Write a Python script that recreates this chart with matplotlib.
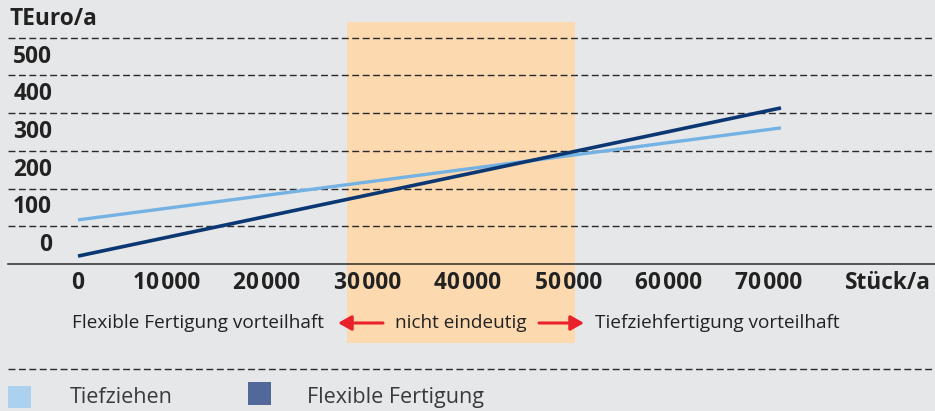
import matplotlib
matplotlib.use("Agg")
import matplotlib.pyplot as plt
from matplotlib.patches import Rectangle
from matplotlib.transforms import offset_copy

plt.rcParams['font.family'] = ['Open Sans', 'DejaVu Sans']

# Stückzahl pro Jahr
stueck = [0, 70000]
# Kosten in TEuro/a
tiefziehen = [117, 361]
flexibel = [21, 414]

x_ticks = [0, 10000, 20000, 30000, 40000, 50000, 60000, 70000]
y_ticks = [0, 100, 200, 300, 400, 500]
grid_levels = [100, 200, 300, 400, 500, 600]

# Bereich "nicht eindeutig"
band_start, band_end = 26800, 49500

bg = "#e6e7e9"
c_dark = "#0b3772"
c_light = "#74b2e4"
c_band = "#fdd9b0"
c_red = "#e8212b"
c_text = "#222222"

W, H = 935, 411
fig = plt.figure(figsize=(W / 100, H / 100), dpi=100, facecolor=bg)
ax = fig.add_axes([0, 0, 1, 1])
ax.set_facecolor(bg)
ax.axis("off")

# pixel -> data: x=0 at px 78, 70000 at px 781; y=0 at px 264, 100 per 37.7 px
px_per_x = 703 / 70000
px_per_y = 0.377
ax.set_xlim(-78 / px_per_x, (W - 78) / px_per_x)
ax.set_ylim(-(H - 264) / px_per_y, 264 / px_per_y)

x_left = (8 - 78) / px_per_x
x_right = (W - 78) / px_per_x

ax.fill_between([band_start, band_end], -(343 - 264) / px_per_y, (264 - 22) / px_per_y,
                color=c_band, lw=0, zorder=1)

for g in grid_levels:
    ax.plot([x_left, x_right], [g, g], color="#2a2a2a", lw=1.0,
            ls=(0, (5, 2.5)), zorder=2)
ax.plot([x_left, x_right], [0, 0], color="#2a2a2a", lw=1.1, zorder=2)
y_sep = -(369 - 264) / px_per_y
ax.plot([x_left, x_right], [y_sep, y_sep], color="#2a2a2a", lw=1.0,
        ls=(0, (5, 2.5)), zorder=2)

ax.plot(stueck, tiefziehen, color=c_light, lw=2.4, solid_capstyle="butt", zorder=3)
ax.plot(stueck, flexibel, color=c_dark, lw=2.6, solid_capstyle="butt", zorder=4)

# Achsenbeschriftung
fs_axis = 16.3
for v in y_ticks:
    ax.text((52 - 78) / px_per_x, v + 50, str(v), ha="right", va="center",
            fontsize=fs_axis, fontweight="bold", color=c_text, zorder=5)
ax.text(x_left + 2 / px_per_x, (264 - 19) / px_per_y, "TEuro/a", ha="left", va="center",
        fontsize=fs_axis, fontweight="bold", color=c_text)

y_xlab = -(283 - 264) / px_per_y
shifted = offset_copy(ax.transData, fig=fig, x=-12, y=0, units="dots")
for v in x_ticks:
    lab = f"{v:,}".replace(",", "\u200a")
    ax.text(v, y_xlab, lab, ha="center", va="center", fontsize=fs_axis,
            fontweight="bold", color=c_text, zorder=5,
            transform=ax.transData if v == 0 else shifted)
ax.text((845 - 78) / px_per_x, y_xlab, "Stück/a", ha="left", va="center",
        fontsize=fs_axis, fontweight="bold", color=c_text)

# Bereichsbeschriftung mit Pfeilen
fs_row = 13.7
y_row = -(323 - 264) / px_per_y
ax.text((324 - 78) / px_per_x, y_row, "Flexible Fertigung vorteilhaft", ha="right",
        va="center", fontsize=fs_row, color=c_text)
ax.text((band_start + band_end) / 2, y_row, "nicht eindeutig", ha="center",
        va="center", fontsize=fs_row, color=c_text)
ax.text((595 - 78) / px_per_x, y_row, "Tiefziehfertigung vorteilhaft", ha="left",
        va="center", fontsize=fs_row, color=c_text)
arrow = dict(arrowstyle="-|>,head_length=0.8,head_width=0.45", color=c_red, lw=2.2,
             shrinkA=0, shrinkB=0)
ax.annotate("", xy=((338 - 78) / px_per_x, y_row), xytext=((383 - 78) / px_per_x, y_row),
            arrowprops=arrow)
ax.annotate("", xy=((584 - 78) / px_per_x, y_row), xytext=((539 - 78) / px_per_x, y_row),
            arrowprops=arrow)

# Legende
def px_rect(x0, y0, x1, y1, color):
    fig.patches.append(Rectangle((x0 / W, 1 - y1 / H), (x1 - x0) / W, (y1 - y0) / H,
                                 transform=fig.transFigure, color=color, lw=0))

px_rect(8, 386, 31, 408, "#acd1ef")
px_rect(248, 382, 271, 405, "#52689a")
fig.text(70 / W, 1 - 397 / H, "Tiefziehen", ha="left", va="center", fontsize=15.5,
         color="#3a3a3a")
fig.text(307 / W, 1 - 397 / H, "Flexible Fertigung", ha="left", va="center",
         fontsize=15.5, color="#3a3a3a")

fig.savefig("out.png", dpi=100, facecolor=bg)
